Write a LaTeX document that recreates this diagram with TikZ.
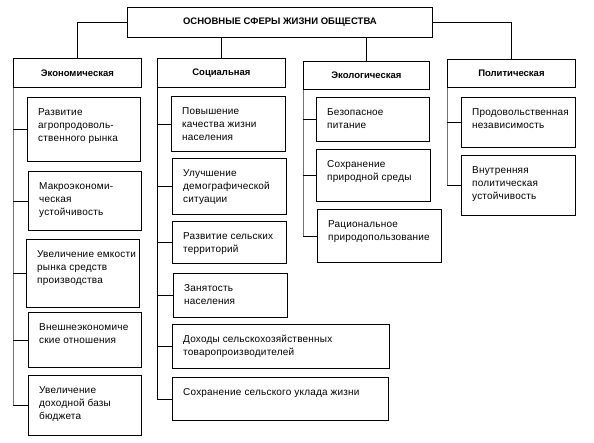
\documentclass[tikz,border=0pt]{standalone}
\usepackage{fontspec}
\setmainfont{Liberation Sans}
\usetikzlibrary{calc}
\newcommand\mybox[6]{%
  \node[sub, minimum width=#4, minimum height=#5] (#1) at (#2,#3) {};
  \node[txt] (#1t) at ([xshift=11pt,yshift=-11pt]#1.north west) {#6};}
\begin{document}
\begin{tikzpicture}[x=1pt,y=-1pt,
  box/.style={draw, line width=0.8pt, inner sep=0pt, anchor=north west},
  cat/.style={box, font=\bfseries\fontsize{9.5}{11}\selectfont},
  sub/.style={box},
  txt/.style={inner sep=0pt, anchor=north west, align=left, font=\fontsize{10}{13.3}\selectfont\addfontfeature{LetterSpace=2}},
  conn/.style={line width=0.8pt},
  spine/.style={line width=0.8pt, draw=black!55}]
\useasboundingbox (0,0) rectangle (594,442);
% top
\node[cat, minimum width=305, minimum height=30] (T) at (127,7) {ОСНОВНЫЕ СФЕРЫ ЖИЗНИ ОБЩЕСТВА};
% categories
\node[cat, minimum width=128, minimum height=29] (E) at (13,58) {Экономическая};
\node[cat, minimum width=128, minimum height=29] (S) at (157,58) {Социальная};
\node[cat, minimum width=126, minimum height=28] (G) at (303,61) {Экологическая};
\node[cat, minimum width=128, minimum height=28] (P) at (447,59) {Политическая};
% economic
\mybox{e1}{27}{97}{113}{64}{Развитие\\агропродоволь-\\ственного рынка}
\mybox{e2}{28}{171}{113}{59}{Макроэкономи-\\ческая\\устойчивость}
\mybox{e3}{26}{239}{113}{68}{Увеличение емкости\\рынка средств\\производства}
\mybox{e4}{28}{312}{113}{55}{Внешнеэкономиче\\ские отношения}
\mybox{e5}{28}{375}{113}{60}{Увеличение\\доходной базы\\бюджета}
% social
\mybox{s1}{171}{96}{114}{55}{Повышение\\качества жизни\\населения}
\mybox{s2}{172}{158}{114}{56}{Улучшение\\демографической\\ситуации}
\mybox{s3}{172}{221}{114}{42}{Развитие сельских\\территорий}
\mybox{s4}{173}{273}{114}{44}{Занятость\\населения}
\mybox{s5}{172}{324}{217}{44}{Доходы сельскохозяйственных\\товаропроизводителей}
\mybox{s6}{172}{377}{216}{43}{Сохранение сельского уклада жизни}
% ecological
\mybox{g1}{316}{97}{113}{44}{Безопасное\\питание}
\mybox{g2}{316}{149}{114}{52}{Сохранение\\природной среды}
\mybox{g3}{317}{209}{124}{53}{Рациональное\\природопользование}
% political
\mybox{p1}{461}{97}{114}{50}{Продовольственная\\независимость}
\mybox{p2}{461}{155}{114}{60}{Внутренняя\\политическая\\устойчивость}
% top connectors
\draw[conn] (T.west) -| (E.north);
\draw[conn] (T.east) -| (P.north);
\draw[conn] (T.south -| S.north) -- (S.north);
\draw[conn] (T.south -| G.north) -- (G.north);
% spines
\draw[spine] (E.south west) -- (E.south west |- e5.west);
\draw[conn] (S.south west) -- (S.south west |- s6.west);
\draw[spine] (G.south west) -- (G.south west |- g3.west);
\draw[spine] (P.south west) -- (P.south west |- p2.west);
\foreach \b in {e1,e2,e3,e4,e5} \draw[conn] (E.south west |- \b.west) -- (\b.west);
\foreach \b in {s1,s2,s3,s4,s5,s6} \draw[conn] (S.south west |- \b.west) -- (\b.west);
\foreach \b in {g1,g2,g3} \draw[conn] (G.south west |- \b.west) -- (\b.west);
\foreach \b in {p1,p2} \draw[conn] (P.south west |- \b.west) -- (\b.west);
\end{tikzpicture}
\end{document}
